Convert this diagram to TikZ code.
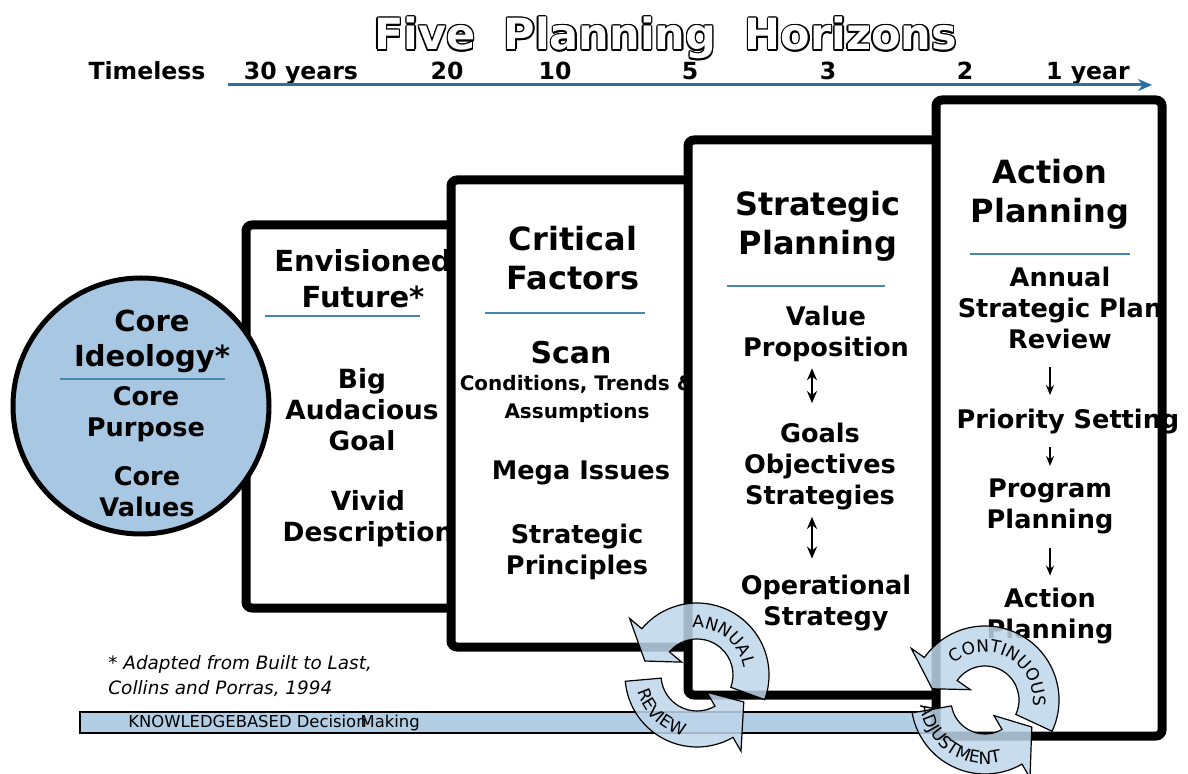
\documentclass[tikz,border=0pt]{standalone}
\usepackage{fontspec}
\setmainfont{DejaVu Sans}
\usepackage{xcolor}
\definecolor{hzblue}{RGB}{40,112,165}
\definecolor{hzrule}{RGB}{70,135,175}
\definecolor{hzfill}{RGB}{167,199,226}
\definecolor{hzbar}{RGB}{178,206,229}
\definecolor{hzcycle}{RGB}{190,214,234}
\usetikzlibrary{arrows.meta,decorations.text}

\tikzset{
  titleword/.style={font=\fontsize{21.5}{21.5}\selectfont\bfseries, anchor=base, inner sep=0pt},
  yearmark/.style={font=\fontsize{11.8}{14}\selectfont\bfseries, anchor=base, inner sep=0pt},
  timeline/.style={hzblue, line width=1.5pt, -{Stealth[length=7pt,width=6pt]}},
  frame/.style={line width=4.5pt, rounded corners=3pt},
  hdr/.style={font=\fontsize{16}{19.5}\selectfont\bfseries, align=center, inner sep=0pt},
  txt/.style={font=\fontsize{12.8}{15.5}\selectfont\bfseries, align=center, inner sep=0pt},
  smalltxt/.style={font=\fontsize{10}{14}\selectfont\bfseries, align=center, inner sep=0pt},
  rule/.style={hzrule, line width=1.3pt},
  flow/.style={-{Stealth[length=5pt,width=4pt]}, line width=0.9pt},
  duo/.style={{Stealth[length=6pt,width=5pt]}-{Stealth[length=6pt,width=5pt]}, line width=1pt},
  cyc/.style={fill=hzcycle, fill opacity=0.85, draw=black, line width=0.6pt},
  cyctext/.style={decorate, decoration={text along path, text align=center, text={#1}}},
}

\begin{document}
\begin{tikzpicture}[x=0.5pt, y=-0.5pt]
\useasboundingbox (0,0) rectangle (1188,774);

% outlined title
\foreach \w/\x in {Five/425,Planning/610,Horizons/851}{
  \foreach \a in {0,30,...,330}
    \node[titleword, text=black, shift={(\a:1.4)}] at (\x,50) {\w};
  \node[titleword, text=white] (title-\w) at (\x,50) {\w};
}

% time scale
\foreach \t/\x in {Timeless/147,30 years/301,20/447,10/555,5/690,3/828,2/965,1 year/1088}
  \node[yearmark] at (\x,80) {\t};
\coordinate (far) at (228,85);
\coordinate (near) at (1152,85);
\draw[timeline] (far) -- (near);

% envisioned future
\fill[white, rounded corners=3pt] (246,225) rectangle (470,608);
\node[hdr, font=\fontsize{14.5}{18}\selectfont\bfseries] (vision) at (363,279) {Envisioned\\Future*};
\draw[rule] (265,316) -- (420,316);
\node[txt, font=\fontsize{13.2}{15.5}\selectfont\bfseries] (bhag) at (362,410) {Big\\Audacious\\Goal};
\node[txt, font=\fontsize{13.2}{15.5}\selectfont\bfseries] (vivid) at (368,519) {Vivid\\Description};
\draw[frame] (246,225) rectangle (470,608);

% core ideology
\node[circle, draw, line width=2.5pt, fill=hzfill, minimum size=128pt, inner sep=0pt] (core) at (141,406) {};
\node[hdr, font=\fontsize{14.5}{17.5}\selectfont\bfseries] (ideology) at (152,341) {Core\\Ideology*};
\draw[rule] (60,379) -- (225,379);
\node[txt] (purpose) at (146,414) {Core\\Purpose};
\node[txt] (values) at (147,492) {Core\\Values};

% critical factors
\fill[white, rounded corners=3pt] (451,180) rectangle (700,647);
\node[hdr] (critical) at (573,258) {Critical\\Factors};
\draw[rule] (485,313) -- (645,313);
\node[hdr, font=\fontsize{15}{18}\selectfont\bfseries] (scan) at (571,353) {Scan};
\node[smalltxt] (trends) at (577,399) {Conditions, Trends \&\\Assumptions};
\node[txt] (mega) at (581,473) {Mega Issues};
\node[txt] (principles) at (577,552) {Strategic\\Principles};
\draw[frame] (451,180) rectangle (700,647);

% strategic planning
\fill[white, rounded corners=3pt] (688,140) rectangle (950,695);
\node[hdr] (strategic) at (818,226) {Strategic\\Planning};
\draw[rule] (727,286) -- (885,286);
\node[txt] (value) at (826,334) {Value\\Proposition};
\node[txt] (goals) at (820,467) {Goals\\Objectives\\Strategies};
\node[txt] (oper) at (826,603) {Operational\\Strategy};
\draw[duo, shorten <=3pt, shorten >=10pt] (812,0 |- value.south) -- (812,0 |- goals.north);
\draw[duo, shorten <=3pt, shorten >=8pt] (812,0 |- goals.south) -- (812,0 |- oper.north);
\draw[frame] (688,140) rectangle (950,695);

% action planning
\fill[white, rounded corners=3pt] (936,100) rectangle (1162,736);
\node[hdr] (action) at (1050,194) {Action\\Planning};
\draw[rule] (970,254) -- (1130,254);
\node[txt] (annual) at (1060,308) {Annual\\Strategic Plan\\Review};
\node[txt] (priority) at (1068,422) {Priority Setting};
\node[txt] (program) at (1050,506) {Program\\Planning};
\node[txt] (doing) at (1050,616) {Action\\Planning};
\draw[flow, shorten <=9pt, shorten >=7pt] (1050,0 |- annual.south) -- (1050,0 |- priority.north);
\draw[flow, shorten <=6pt, shorten >=6pt] (1050,0 |- priority.south) -- (1050,0 |- program.north);
\draw[flow, shorten <=7pt, shorten >=6pt] (1050,0 |- program.south) -- (1050,0 |- doing.north);
\draw[frame] (936,100) rectangle (1162,736);

% footnote and base bar
\node[anchor=west, align=left, inner sep=0pt, font=\fontsize{9.2}{12.5}\selectfont\itshape] (adapted) at (108,676) {* Adapted from Built to Last,\\Collins and Porras, 1994};
\draw[fill=hzbar, line width=0.8pt] (80,712) rectangle (932,733);
\node[anchor=west, inner sep=0pt, font=\fontsize{8.2}{10}\selectfont] (kdm) at (128,723) {KNOWLEDGEBASED Decision\kern-3pt Making};

% annual review cycle
\begin{scope}[shift={(697,675)}]
  \path[cyc] (20:72) arc[start angle=20, end angle=-140, radius=72] -- (-140:88) -- (-165:54) -- (-140:20) -- (-140:36) arc[start angle=-140, end angle=20, radius=36] -- cycle;
  \path[cyc] (175:72) arc[start angle=175, end angle=60, radius=72] -- (60:88) -- (30:54) -- (60:20) -- (60:36) arc[start angle=60, end angle=175, radius=36] -- cycle;
  \path[cyctext={|\fontsize{8.5}{8.5}\selectfont|ANNUAL}] (-100:47) arc[start angle=-100, end angle=-5, radius=47];
  \path[cyctext={|\fontsize{8.5}{8.5}\selectfont|REVIEW}] (172:62) arc[start angle=172, end angle=95, radius=62];
\end{scope}

% continuous adjustment cycle
\begin{scope}[shift={(985,700)}]
  \path[cyc] (25:74) arc[start angle=25, end angle=-145, radius=74] -- (-145:90) -- (-168:54) -- (-145:18) -- (-145:34) arc[start angle=-145, end angle=25, radius=34] -- cycle;
  \path[cyc] (170:74) arc[start angle=170, end angle=60, radius=74] -- (60:90) -- (30:54) -- (60:18) -- (60:34) arc[start angle=60, end angle=170, radius=34] -- cycle;
  \path[cyctext={|\fontsize{8.5}{8.5}\selectfont|CONTINUOUS}] (-135:48) arc[start angle=-135, end angle=12, radius=48];
  \path[cyctext={|\fontsize{8.5}{8.5}\selectfont|ADJUSTMENT}] (178:64) arc[start angle=178, end angle=72, radius=64];
\end{scope}
\end{tikzpicture}
\end{document}
